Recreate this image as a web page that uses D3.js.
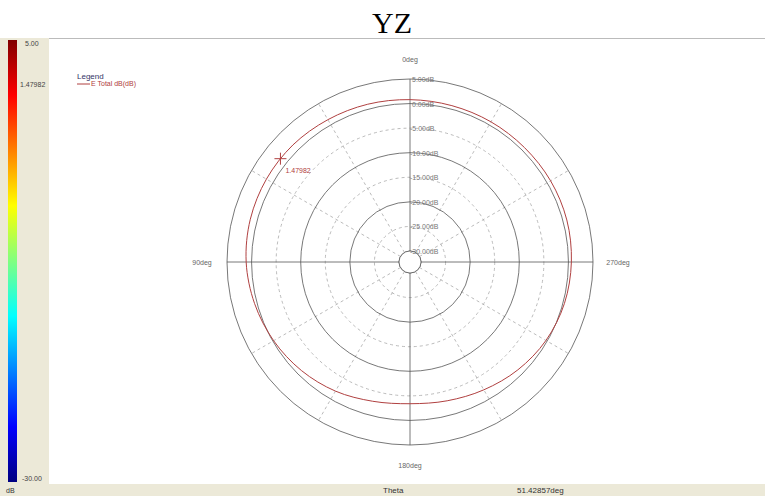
<!DOCTYPE html>
<html>
<head>
<meta charset="utf-8">
<script src="https://cdn.jsdelivr.net/npm/d3@7"></script>
<style>
  body { margin: 0; background: #fff; }
  text { font-family: "Liberation Sans", Arial, sans-serif; }
</style>
</head>
<body>
<div id="chart"></div>
<script>
// pattern: theta in degrees (0 at top, counter-clockwise), E Total in dB
const thetaDeg = [0, 15, 30, 45, 60, 75, 90, 105, 120, 135, 150, 165, 180,
                  195, 210, 225, 240, 255, 270, 285, 300, 315, 330, 345];
const eTotalDb = [0.8, 1.0, 1.2, 1.45, 1.5, 1.4, 1.1, 0.5, -0.2, -1.0, -1.9, -2.9, -3.4,
                  -3.0, -2.2, -1.2, -0.3, 0.3, 0.6, 0.8, 0.8, 0.7, 0.7, 0.7];
const ringValues = [5, 0, -5, -10, -15, -20, -25, -30];
const spokeAngles = [30, 60, 120, 150, 210, 240, 300, 330];
const angleLabels = [
  { deg: 0, text: "0deg" }, { deg: 90, text: "90deg" },
  { deg: 180, text: "180deg" }, { deg: 270, text: "270deg" }
];
const marker = { theta: 51.42857, value: 1.47982 };
const colorStops = ["#000080", "#0000ff", "#0080ff", "#00ffff", "#80ff80", "#ffff00", "#ff8000", "#ff0000", "#800000"];

const W = 765, H = 496;
const cx = 410, cy = 262;

const svg = d3.select("#chart").append("svg")
  .attr("width", W).attr("height", H);

svg.append("rect").attr("width", W).attr("height", H).attr("fill", "#fff");

// title
svg.append("text")
  .attr("x", 392).attr("y", 33)
  .attr("text-anchor", "middle")
  .style("font-family", "'Liberation Serif', 'Times New Roman', serif")
  .style("font-size", "30px")
  .text("YZ");

// frame pieces
svg.append("rect").attr("x", 0).attr("y", 38).attr("width", 49).attr("height", H - 38).attr("fill", "#ece9d8");
svg.append("rect").attr("x", 0).attr("y", 484).attr("width", W).attr("height", 12).attr("fill", "#ece9d8");
svg.append("line").attr("x1", 49).attr("x2", W).attr("y1", 38.5).attr("y2", 38.5).attr("stroke", "#bbb");

// colour bar
const barTop = 40, barBottom = 482;
const cbScale = d3.scaleLinear().domain([-30, 5]).range([barBottom, barTop]);
const grad = svg.append("defs").append("linearGradient")
  .attr("id", "jet").attr("x1", 0).attr("y1", 1).attr("x2", 0).attr("y2", 0);
grad.selectAll("stop").data(colorStops).join("stop")
  .attr("offset", (d, i) => i / (colorStops.length - 1))
  .attr("stop-color", d => d);
svg.append("rect")
  .attr("x", 8).attr("y", barTop).attr("width", 9).attr("height", barBottom - barTop)
  .attr("fill", "url(#jet)");
const cbLabels = [5, marker.value, -30];
svg.selectAll(".cbl").data(cbLabels).join("text")
  .attr("class", "cbl")
  .attr("x", d => d === marker.value ? 20 : (d < 0 ? 22 : 25))
  .attr("y", d => cbScale(d) + (d === 5 ? 6 : d === -30 ? -1 : 3))
  .attr("fill", "#444").style("font-size", "7px")
  .text(d => d.toFixed(d === marker.value ? 5 : 2));

// status bar
svg.append("text").attr("x", 6).attr("y", 493).style("font-size", "7px").attr("fill", "#333").text("dB");
svg.append("text").attr("x", 383).attr("y", 493).style("font-size", "8px").attr("fill", "#333").text("Theta");
svg.append("text").attr("x", 517).attr("y", 493).style("font-size", "8px").attr("fill", "#333").text("51.42857deg");

// polar grid
const r = d3.scaleLinear().domain([-30, 5]).range([11, 183]);
const g = svg.append("g").attr("transform", `translate(${cx},${cy})`);
const rad = d => -d * Math.PI / 180;

g.selectAll(".spoke").data(spokeAngles).join("line")
  .attr("x1", d => r(-30) * Math.sin(rad(d))).attr("y1", d => -r(-30) * Math.cos(rad(d)))
  .attr("x2", d => r(5) * Math.sin(rad(d))).attr("y2", d => -r(5) * Math.cos(rad(d)))
  .attr("stroke", "#aaa").attr("stroke-width", 0.8).attr("stroke-dasharray", "3,3");

g.selectAll(".ring").data(ringValues).join("circle")
  .attr("r", d => r(d)).attr("fill", "none")
  .attr("stroke", d => [-5, -15, -25].includes(d) ? "#aaa" : "#555")
  .attr("stroke-width", 0.8)
  .attr("stroke-dasharray", d => [-5, -15, -25].includes(d) ? "3,3" : null);

g.append("line").attr("x1", -r(5)).attr("x2", r(5)).attr("y1", 0).attr("y2", 0).attr("stroke", "#555").attr("stroke-width", 0.8);
g.append("line").attr("x1", 0).attr("x2", 0).attr("y1", -r(5)).attr("y2", r(5)).attr("stroke", "#555").attr("stroke-width", 0.8);
g.append("circle").attr("r", r(-30)).attr("fill", "#fff").attr("stroke", "#555").attr("stroke-width", 0.8);

g.selectAll(".rl").data(ringValues).join("text")
  .attr("x", d => d < 0 ? 0 : 2).attr("y", d => -r(d) + 3)
  .attr("fill", "#777").style("font-size", "7px")
  .text(d => d.toFixed(2) + "dB");

g.selectAll(".al").data(angleLabels).join("text")
  .attr("x", d => (r(5) + 25) * Math.sin(rad(d.deg)))
  .attr("y", d => -(r(5) + 20) * Math.cos(rad(d.deg)) + 3)
  .attr("text-anchor", "middle")
  .attr("fill", "#666").style("font-size", "7px")
  .text(d => d.text);

// pattern curve
const pts = thetaDeg.map((t, i) => [rad(t), r(eTotalDb[i])]);
const line = d3.lineRadial().curve(d3.curveCardinalClosed);
g.append("path").attr("d", line(pts))
  .attr("fill", "none").attr("stroke", "#b04040").attr("stroke-width", 1);

// marker
const mx = r(marker.value) * Math.sin(rad(marker.theta));
const my = -r(marker.value) * Math.cos(rad(marker.theta));
g.append("path").attr("d", `M${mx - 6},${my}H${mx + 6}M${mx},${my - 6}V${my + 6}`)
  .attr("stroke", "#b04040").attr("stroke-width", 1);
g.append("text").attr("x", mx + 5).attr("y", my + 14)
  .attr("fill", "#b04040").style("font-size", "7px").text(marker.value.toFixed(5));

// legend
svg.append("text").attr("x", 77).attr("y", 79).attr("fill", "#336").style("font-size", "8px").text("Legend");
svg.append("line").attr("x1", 77).attr("x2", 90).attr("y1", 84).attr("y2", 84).attr("stroke", "#b04040");
svg.append("text").attr("x", 91).attr("y", 86).attr("fill", "#b04040").style("font-size", "7px").text("E Total dB(dB)");
</script>
</body>
</html>
